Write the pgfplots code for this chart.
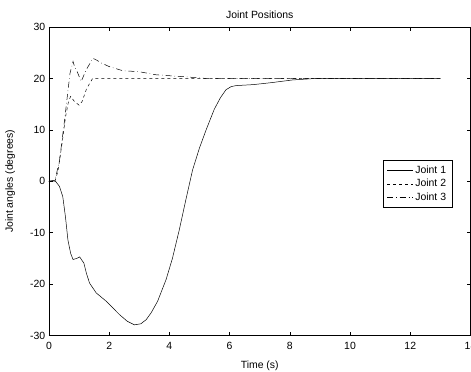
\documentclass[border=0pt]{standalone}
\usepackage{pgfplots}
\pgfplotsset{compat=1.18}
\usepackage{fontspec}
\setmainfont{Liberation Sans}
\begin{document}
\fontsize{10.5}{12}\selectfont
\begin{tikzpicture}
\begin{axis}[
  scale only axis,
  width=422bp, height=309bp,
  xmin=0, xmax=14, ymin=-30, ymax=30,
  xtick={0,2,...,14}, ytick={-30,-20,...,30},
  tick align=inside,
  major tick length=4bp,
  axis line style={black, line width=0.6pt},
  every tick/.style={black, line width=0.6pt},
  /pgf/number format/assume math mode=true,
  tick label style={font=\fontsize{10.5}{12}\selectfont},
  label style={font=\fontsize{10.5}{12}\selectfont},
  title style={font=\fontsize{10.5}{12}\selectfont, yshift=-1bp},
  title={Joint Positions},
  xlabel={Time (s)},
  ylabel={Joint angles (degrees)},
  xlabel style={yshift=-4bp},
  ylabel style={yshift=8bp},
  xticklabel style={yshift=-3bp},
  yticklabel style={xshift=0bp},
  legend style={at={(rel axis cs:0.957,0.492)}, anchor=east, draw=black, line width=0.6pt,
    font=\fontsize{10.5}{12}\selectfont, row sep=0.5bp, inner xsep=4bp, inner ysep=3bp},
  legend cell align=left,
  legend image code/.code={\draw[#1, line width=0.5pt] (0bp,0bp) -- (26bp,0bp);},
]
\addplot[black, line width=0.5pt] coordinates {
(0,0) (0.1,0.1) (0.22,0) (0.35,-1) (0.46,-3) (0.55,-7) (0.63,-11.4) (0.72,-14)
(0.8,-15.2) (0.92,-15) (1.02,-14.7) (1.16,-15.9) (1.25,-18) (1.35,-19.8) (1.57,-21.7)
(1.9,-23.3) (2.34,-25.9) (2.6,-27.2) (2.84,-27.9) (3.05,-27.7) (3.23,-26.9) (3.4,-25.5)
(3.61,-23.3) (3.89,-19.1) (4.1,-15) (4.33,-9.4) (4.55,-3.5) (4.77,2.2) (5.0,6.5)
(5.22,10) (5.49,14) (5.7,16.3) (5.88,17.8) (6.05,18.4) (6.21,18.6) (6.8,18.8)
(7.42,19.2) (8.09,19.7) (8.75,19.95) (9,20) (13,20)};
\addlegendentry{Joint 1}
\addplot[black, line width=0.5pt, dash pattern=on 3bp off 3bp] coordinates {
(0,0) (0.2,0) (0.3,2) (0.45,8) (0.55,12.5) (0.65,15.5) (0.72,16.5) (0.85,15.5)
(1.0,14.8) (1.1,15.5) (1.25,18) (1.45,20) (13,20)};
\addlegendentry{Joint 2}
\addplot[black, line width=0.5pt, dash pattern=on 6bp off 3bp on 0.5bp off 3bp] coordinates {
(0,0) (0.2,0.2) (0.35,4) (0.5,11) (0.6,16) (0.7,21) (0.8,23.3) (0.85,22.3) (0.96,21)
(1.07,19.4) (1.24,21.7) (1.46,23.9) (1.57,23.6) (1.74,23) (2.0,22.3) (2.45,21.5)
(3.0,21.3) (3.56,20.7) (4.55,20.3) (5.2,20) (13,20)};
\addlegendentry{Joint 3}
\coordinate (sw) at (rel axis cs:0,0);
\coordinate (ne) at (rel axis cs:1,1);
\end{axis}
\pgfresetboundingbox
\path[use as bounding box] ([xshift=-49bp,yshift=-36bp]sw) rectangle ([xshift=0.5bp,yshift=27bp]ne);
\end{tikzpicture}
\end{document}
